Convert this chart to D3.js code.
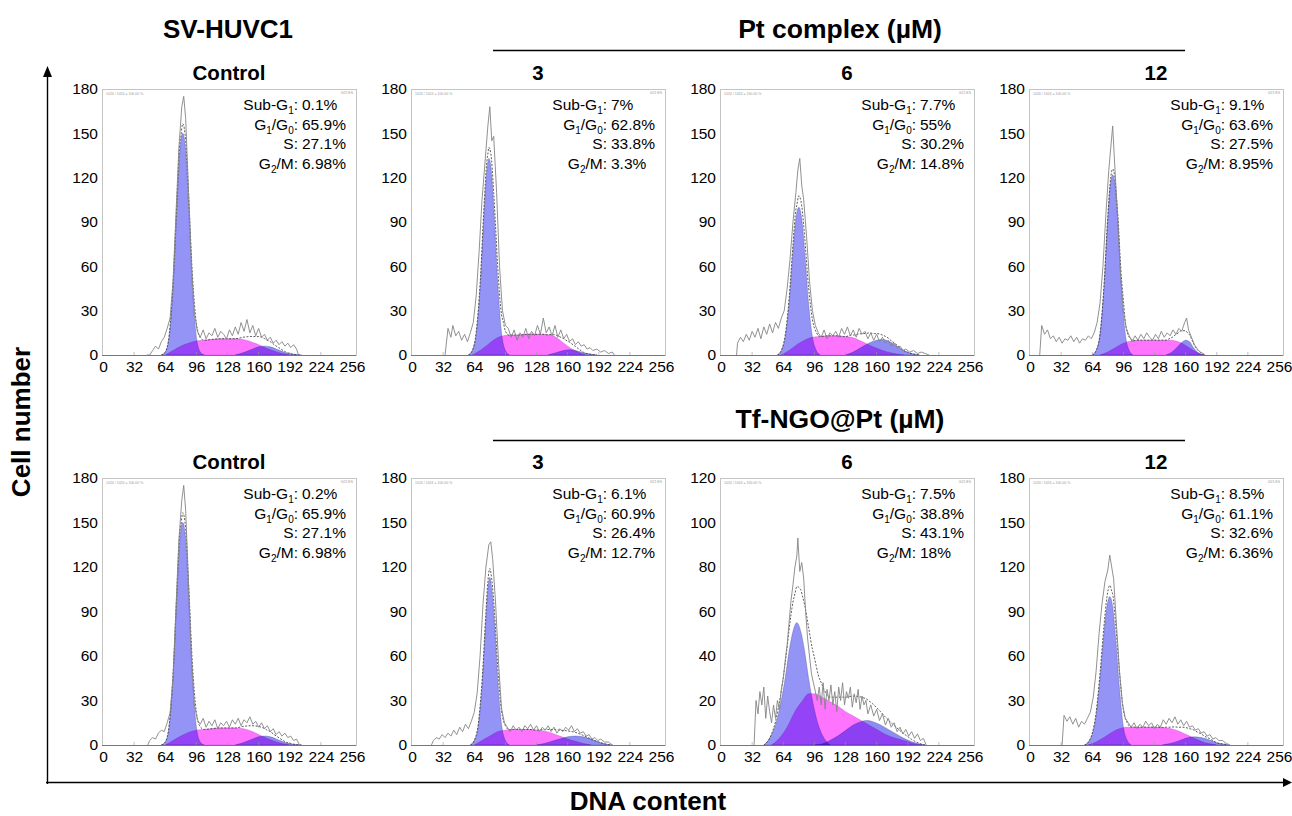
<!DOCTYPE html>
<html><head><meta charset="utf-8">
<script src="https://cdn.jsdelivr.net/npm/d3@7"></script>
<style>
body{margin:0;background:#fff;}
text{font-family:"Liberation Sans",Arial,Helvetica,sans-serif;fill:#000;}
</style></head><body>
<svg id="c" width="1292" height="816"></svg>
<script>
// ---------------- DATA ----------------
const panelTitles = ["Control","3","6","12","Control","3","6","12"];
const groupTitles = ["Pt complex (µM)","Tf-NGO@Pt (µM)"];
const cellLine = "SV-HUVC1";
const xTickValues = [0,32,64,96,128,160,192,224,256];
const yTicks180 = [0,30,60,90,120,150,180];
const yTicks120 = [0,20,40,60,80,100,120];
const yMaxes = [180,180,180,180,180,180,120,180];
const subG1 = ["0.1%","7%","7.7%","9.1%","0.2%","6.1%","7.5%","8.5%"];
const g1g0  = ["65.9%","62.8%","55%","63.6%","65.9%","60.9%","38.8%","61.1%"];
const sPh   = ["27.1%","33.8%","30.2%","27.5%","27.1%","26.4%","43.1%","32.6%"];
const g2m   = ["6.98%","3.3%","14.8%","8.95%","6.98%","12.7%","18%","6.36%"];

// histograms [channel, count]
const histPt0 = [[45,0],[48,0],[51,3],[54,6],[57,4],[60,9],[63,12],[66,18],[69,25],[72,50],[75,95],[78,140],[81,168],[83,175],[85,160],[88,110],[91,60],[94,28],[97,16],[100,12],[103,17],[106,11],[109,15],[112,13],[115,18],[118,12],[121,16],[124,14],[127,11],[130,17],[133,13],[136,19],[139,14],[142,22],[145,16],[148,24],[151,15],[154,20],[157,13],[160,18],[163,12],[166,14],[169,10],[172,12],[175,8],[178,10],[181,7],[184,9],[187,6],[190,8],[193,5],[196,7],[199,4],[201,0]];
const histPt3 = [[34,0],[37,18],[40,12],[42,20],[45,13],[48,16],[51,10],[54,14],[57,9],[60,15],[63,22],[66,40],[69,70],[72,105],[75,130],[78,155],[80,168],[82,145],[84,148],[87,110],[90,60],[93,30],[96,20],[99,18],[102,12],[105,17],[108,10],[111,15],[114,12],[117,18],[120,11],[123,16],[126,13],[129,20],[132,14],[135,25],[138,15],[141,19],[144,13],[147,20],[150,12],[153,17],[156,11],[159,14],[162,9],[165,11],[168,7],[171,9],[174,6],[177,7],[180,4],[183,5],[186,3],[190,4],[194,2],[198,3],[202,1],[206,2],[208,0]];
const histPt6 = [[16,0],[17,8],[20,12],[23,9],[26,14],[29,10],[32,16],[35,12],[38,18],[41,11],[44,19],[47,14],[50,21],[53,15],[56,22],[59,18],[62,25],[65,30],[68,45],[71,65],[74,90],[77,110],[79,125],[81,133],[83,115],[85,105],[88,80],[91,50],[94,30],[97,20],[100,15],[103,12],[106,17],[109,11],[112,15],[115,13],[118,16],[121,12],[124,18],[127,14],[130,19],[133,13],[136,17],[139,12],[142,18],[145,14],[148,16],[151,11],[154,15],[157,10],[160,14],[163,9],[166,12],[169,8],[172,10],[175,6],[178,8],[181,5],[184,6],[187,3],[190,4],[194,2],[198,3],[202,1],[206,2],[210,1],[214,0]];
const histPt12 = [[10,0],[12,20],[15,14],[18,17],[21,11],[24,13],[27,9],[30,12],[33,8],[36,11],[39,10],[42,13],[45,9],[48,12],[51,8],[54,11],[57,10],[60,13],[63,11],[66,15],[69,22],[72,35],[75,60],[78,95],[81,125],[83,140],[85,155],[87,130],[90,95],[93,55],[96,30],[99,18],[102,13],[105,9],[108,13],[111,10],[114,14],[117,11],[120,15],[123,12],[126,10],[129,14],[132,11],[135,16],[138,12],[141,15],[144,13],[147,17],[150,14],[153,18],[156,16],[159,22],[161,25],[163,17],[166,12],[169,7],[172,4],[175,2],[178,1],[180,0]];
const histTf0 = [[46,0],[48,3],[51,5],[54,4],[57,8],[60,10],[63,9],[66,15],[69,22],[72,45],[75,92],[78,138],[81,165],[83,175],[85,158],[88,108],[91,58],[94,27],[97,17],[100,14],[103,18],[106,12],[109,16],[112,13],[115,17],[118,11],[121,15],[124,13],[127,16],[130,12],[133,17],[136,14],[139,18],[142,13],[145,17],[148,15],[151,19],[154,14],[157,16],[160,12],[163,15],[166,11],[169,13],[172,9],[175,11],[178,7],[181,9],[184,6],[187,8],[190,5],[193,6],[196,3],[199,4],[202,0]];
const histTf3 = [[20,0],[22,3],[25,5],[28,4],[31,7],[34,5],[37,8],[40,6],[43,10],[46,7],[49,12],[52,9],[55,14],[58,11],[61,16],[64,22],[67,35],[70,60],[73,95],[76,120],[79,135],[81,137],[83,125],[86,95],[89,55],[92,25],[95,15],[98,12],[101,9],[104,13],[107,10],[110,12],[113,9],[116,13],[119,11],[122,14],[125,10],[128,13],[131,9],[134,12],[137,10],[140,13],[143,9],[146,12],[149,8],[152,11],[155,9],[158,12],[161,10],[164,13],[167,9],[170,11],[173,8],[176,9],[179,6],[182,7],[185,4],[188,5],[191,3],[194,4],[198,2],[202,2],[206,0]];
const histTf6 = [[34,0],[36,20],[38,14],[40,24],[42,18],[44,26],[46,12],[48,22],[50,15],[52,10],[54,18],[56,12],[58,20],[60,16],[62,25],[64,30],[66,38],[68,45],[70,55],[72,65],[74,72],[76,80],[78,85],[79,93],[81,78],[83,82],[85,75],[87,60],[89,48],[91,40],[93,32],[95,28],[97,24],[99,20],[101,26],[103,18],[105,28],[107,16],[109,25],[111,20],[113,27],[115,18],[117,24],[119,15],[121,26],[123,20],[125,28],[127,18],[129,24],[131,21],[133,26],[135,17],[137,23],[139,19],[141,25],[143,16],[145,22],[147,18],[149,20],[151,14],[154,18],[157,13],[160,16],[163,11],[166,14],[169,9],[172,12],[175,8],[178,10],[181,6],[184,8],[187,5],[190,7],[193,4],[196,6],[199,3],[202,5],[205,2],[208,3],[211,0]];
const histTf12 = [[33,0],[35,20],[38,16],[41,19],[44,14],[47,18],[50,12],[53,16],[56,14],[59,18],[62,22],[65,32],[68,50],[71,75],[74,95],[77,110],[80,118],[82,128],[84,120],[86,112],[89,80],[92,50],[95,28],[98,18],[101,15],[104,12],[107,15],[110,11],[113,14],[116,12],[119,16],[122,13],[125,15],[128,11],[131,14],[134,12],[137,17],[140,14],[143,18],[146,15],[149,19],[152,14],[155,17],[158,13],[161,16],[164,12],[167,13],[170,10],[173,11],[176,8],[179,9],[182,6],[185,7],[188,4],[191,5],[194,3],[198,3],[202,1],[206,0]];

// fitted components [channel, count]
const g1Pt0 = [[60,0],[64,2],[68,12],[72,45],[76,100],[79,138],[82,150],[85,138],[88,100],[92,45],[96,12],[100,2],[104,0]];
const sPt0  = [[64,0],[72,3],[80,6],[88,8],[96,9.5],[104,10],[112,10.5],[120,11],[128,11],[136,11],[144,10.5],[152,9],[160,7],[168,4.5],[176,2.5],[184,1],[192,0]];
const g2Pt0 = [[136,0],[144,1.5],[152,3.5],[160,5.5],[166,6],[172,5.5],[180,3.5],[188,1.5],[196,0.5],[204,0]];
const g1Pt3 = [[58,0],[62,3],[66,14],[70,45],[74,95],[77,125],[79,133],[81,128],[84,100],[88,50],[92,15],[96,3],[100,0]];
const sPt3  = [[62,0],[70,3],[78,7],[86,11],[94,13],[102,13.5],[110,13.5],[118,14],[126,14],[134,14],[142,13.5],[148,12],[154,9],[160,6],[166,3.5],[172,1.5],[178,0]];
const g2Pt3 = [[140,0],[148,1.5],[156,3],[162,3.5],[168,3],[176,1.5],[184,0.5],[190,0]];
const g1Pt6 = [[58,0],[62,3],[66,12],[70,35],[74,70],[77,92],[80,100],[83,92],[86,70],[90,35],[94,12],[98,3],[102,0]];
const sPt6  = [[62,0],[70,3],[78,7],[86,10],[94,12],[102,12.5],[110,13],[118,13],[126,12.5],[134,12],[142,10],[150,7.5],[158,5],[166,3],[174,1.5],[182,0.5],[188,0]];
const g2Pt6 = [[128,0],[136,2],[144,5],[152,8],[160,10],[166,10.5],[172,9.5],[180,6.5],[188,3],[196,1],[204,0]];
const g1Pt12 = [[64,0],[68,3],[72,14],[76,45],[80,92],[83,117],[85,122],[87,117],[90,92],[94,45],[98,14],[102,3],[106,0]];
const sPt12  = [[72,0],[80,2],[88,5],[96,8],[104,9.5],[112,10],[120,10],[128,10],[136,10],[144,10],[150,9.5],[156,8],[162,5.5],[168,3],[174,1],[180,0]];
const g2Pt12 = [[140,0],[146,2],[151,5],[156,8.5],[160,10],[164,9],[168,5],[172,2],[178,0]];
const g1Tf0 = [[60,0],[64,2],[68,12],[72,45],[76,100],[79,138],[82,150],[85,138],[88,100],[92,45],[96,12],[100,2],[104,0]];
const sTf0  = [[64,0],[72,3],[80,6],[88,8.5],[96,10],[104,10.5],[112,11],[120,11.5],[128,11.5],[136,11.5],[144,11],[152,9.5],[160,7],[168,4.5],[176,2.5],[184,1],[192,0]];
const g2Tf0 = [[136,0],[144,1.5],[152,3.5],[160,5.5],[166,6],[172,5.5],[180,3.5],[188,1.5],[196,0.5],[204,0]];
const g1Tf3 = [[60,0],[64,3],[68,12],[72,40],[76,85],[78,105],[80,113],[82,105],[85,80],[88,45],[92,14],[96,3],[100,0]];
const sTf3  = [[64,0],[72,3],[80,6],[88,9],[96,10],[104,10.5],[112,10.5],[120,10.5],[128,10],[136,9.5],[144,8],[152,6],[160,4],[168,2.5],[176,1],[184,0]];
const g2Tf3 = [[128,0],[136,1],[144,2.5],[152,4],[160,5.5],[168,6],[176,5.5],[184,4],[192,2],[200,0.5],[206,0]];
const g1Tf6 = [[44,0],[50,3],[56,9],[62,20],[66,30],[70,42],[74,51],[78,55],[82,51],[86,42],[90,30],[94,20],[100,9],[106,3],[112,0]];
const sTf6  = [[52,0],[60,3],[68,8],[76,15],[84,20],[90,23],[96,23],[104,21.5],[112,19.5],[120,17.5],[128,15],[136,13],[144,11],[152,9],[160,7],[168,5],[176,3.5],[184,2.5],[192,1.5],[200,0.5],[207,0]];
const g2Tf6 = [[96,0],[104,0.5],[112,2],[120,4],[128,6.5],[136,9],[144,10.5],[150,11],[156,10.5],[164,9],[172,7],[180,5],[188,3],[196,1.5],[204,0.5],[210,0]];
const g1Tf12 = [[56,0],[60,2],[64,7],[68,20],[72,45],[76,75],[79,93],[82,100],[85,93],[88,72],[92,38],[96,12],[100,3],[104,0]];
const sTf12  = [[60,0],[68,2],[76,5],[84,8.5],[92,11],[100,12],[108,12],[116,12],[124,12],[132,12],[140,11.5],[148,10.5],[156,8.5],[164,6],[172,3.5],[180,1.5],[188,0.5],[192,0]];
const g2Tf12 = [[136,0],[144,1],[152,2.5],[160,4.5],[168,5.5],[176,5],[184,3.5],[192,1.5],[200,0.5],[204,0]];

const hists = [histPt0,histPt3,histPt6,histPt12,histTf0,histTf3,histTf6,histTf12];
const g1s = [g1Pt0,g1Pt3,g1Pt6,g1Pt12,g1Tf0,g1Tf3,g1Tf6,g1Tf12];
const ss  = [sPt0,sPt3,sPt6,sPt12,sTf0,sTf3,sTf6,sTf12];
const g2s = [g2Pt0,g2Pt3,g2Pt6,g2Pt12,g2Tf0,g2Tf3,g2Tf6,g2Tf12];

// ---------------- LAYOUT ----------------
const svg = d3.select("#c");
const FONT = '"Liberation Sans",Arial,Helvetica,sans-serif';
const colLeft = c => 102 + c*309;
const boxW = 254;
const rowTop = [89, 478], rowBase = [355, 745];

function valAt(pts, c){
  if (c <= pts[0][0] || c >= pts[pts.length-1][0]) return 0;
  const i = d3.bisector(d=>d[0]).right(pts, c);
  const a = pts[i-1], b = pts[i];
  return a[1] + (b[1]-a[1])*(c-a[0])/(b[0]-a[0]);
}

for (let p=0;p<8;p++){
  const r = Math.floor(p/4), c = p%4;
  const L = colLeft(c), T = rowTop[r], B = rowBase[r];
  const g = svg.append("g");
  const x = d3.scaleLinear().domain([0,256]).range([L+1, L+250]);
  const y = d3.scaleLinear().domain([0,yMaxes[p]]).range([B, T]);

  // frame
  g.append("rect").attr("x",L+0.5).attr("y",T+0.5).attr("width",boxW).attr("height",B-T)
    .attr("fill","#fff").attr("stroke","#c4c4c4").attr("stroke-width",1);
  g.append("text").attr("x",L+4).attr("y",T+6).attr("font-size",3.5).style("fill","#999").text("1024 / 1024 = 100.00 %");
  g.append("text").attr("x",L+boxW-3).attr("y",T+5).attr("text-anchor","end").attr("font-size",3.5).style("fill","#999").text("G21 ES");

  const area = d3.area().x(d=>x(d[0])).y0(B).y1(d=>y(d[1])).curve(d3.curveMonotoneX);
  const line = d3.line().x(d=>x(d[0])).y(d=>y(d[1])).curve(d3.curveMonotoneX);
  const comps = g.append("g").style("isolation","isolate");
  comps.append("path").attr("d",area(ss[p])).attr("fill","#ff74ff").attr("stroke","#b050c0").attr("stroke-width",0.4);
  comps.append("path").attr("d",area(g1s[p])).attr("fill","#9494f6").style("mix-blend-mode","multiply").attr("stroke","#5050a0").attr("stroke-width",0.4);
  comps.append("path").attr("d",area(g2s[p])).attr("fill","#8c8cf2").style("mix-blend-mode","multiply").attr("stroke","#5050a0").attr("stroke-width",0.4);

  // fit sum (derived from the components)
  const chans = Array.from(new Set([...g1s[p],...ss[p],...g2s[p]].map(d=>d[0]))).sort((a,b)=>a-b);
  const fit = chans.map(ch=>[ch, valAt(g1s[p],ch)+valAt(ss[p],ch)+valAt(g2s[p],ch)]);
  g.append("path").attr("d",line(fit)).attr("fill","none").attr("stroke","#333").attr("stroke-width",0.8).attr("stroke-dasharray","2,1.5");

  // histogram
  g.append("path").attr("d",d3.line().x(d=>x(d[0])).y(d=>y(d[1]))(hists[p]))
    .attr("fill","none").attr("stroke","#858585").attr("stroke-width",0.9);

  // baseline
  g.append("line").attr("x1",L).attr("x2",L+boxW).attr("y1",B+0.5).attr("y2",B+0.5).attr("stroke","#777").attr("stroke-width",1);
  xTickValues.slice(1,-1).forEach(v=>{
    g.append("line").attr("x1",x(v)).attr("x2",x(v)).attr("y1",B).attr("y2",B-3).attr("stroke","#999").attr("stroke-width",0.6);
  });

  // axes labels
  const ax = g.append("g").attr("transform",`translate(0,${B})`)
    .call(d3.axisBottom(x).tickValues(xTickValues).tickSize(0).tickPadding(6).tickFormat(d3.format("d")));
  ax.select(".domain").remove();
  ax.selectAll("text").attr("font-size",15.5).attr("font-family",FONT).style("fill","#000");
  const ay = g.append("g").attr("transform",`translate(${L},0)`)
    .call(d3.axisLeft(y).tickValues(yMaxes[p]===120?yTicks120:yTicks180).tickSize(0).tickPadding(4));
  ay.select(".domain").remove();
  ay.selectAll("text").attr("font-size",15.5).attr("font-family",FONT).style("fill","#000");

  // title
  g.append("text").attr("x",L+127).attr("y",T-9).attr("text-anchor","middle")
    .attr("font-size",20.5).attr("font-weight","bold").text(panelTitles[p]);

  // annotations
  const cx = L+196;
  const lines = [
    [["Sub-G",0],["1",1],[":",0]], subG1[p],
    [["G",0],["1",1],["/G",0],["0",1],[":",0]], g1g0[p],
    [["S:",0]], sPh[p],
    [["G",0],["2",1],["/M:",0]], g2m[p]
  ];
  for (let k=0;k<4;k++){
    const yy = T + 21 + k*19.7;
    const t = g.append("text").attr("x",cx).attr("y",yy).attr("text-anchor","end").attr("font-size",15.5);
    let sub=false;
    lines[2*k].forEach(([s,isSub])=>{
      const ts = t.append("tspan").text(s);
      if (isSub && !sub){ ts.attr("dy",4).attr("font-size",10); sub=true; }
      else if (isSub && sub){ ts.attr("font-size",10); }
      else if (!isSub && sub){ ts.attr("dy",-4); sub=false; }
    });
    g.append("text").attr("x",cx+4).attr("y",yy).attr("font-size",15.5).text(lines[2*k+1]);
  }
}

// group titles
svg.append("text").attr("x",228).attr("y",38).attr("text-anchor","middle").attr("font-size",26).attr("font-weight","bold").text(cellLine);
[38,428].forEach((yy,i)=>{
  svg.append("text").attr("x",840).attr("y",yy).attr("text-anchor","middle").attr("font-size",26.5).attr("font-weight","bold").text(groupTitles[i]);
  svg.append("line").attr("x1",493).attr("x2",1185).attr("y1",yy+12.5).attr("y2",yy+12.5).attr("stroke","#000").attr("stroke-width",1.3);
});

// big axes arrows
svg.append("line").attr("x1",47.5).attr("x2",47.5).attr("y1",784).attr("y2",74).attr("stroke","#000").attr("stroke-width",1.4);
svg.append("path").attr("d","M47.5,66 L43,77 L52,77 Z").attr("fill","#000");
svg.append("line").attr("x1",46).attr("x2",1284).attr("y1",782.5).attr("y2",782.5).attr("stroke","#000").attr("stroke-width",1.4);
svg.append("path").attr("d","M1292,782.5 L1283,778 L1283,787 Z").attr("fill","#000");

svg.append("text").attr("transform","translate(30,422) rotate(-90)").attr("text-anchor","middle").attr("font-size",26).attr("font-weight","bold").text("Cell number");
svg.append("text").attr("x",648).attr("y",810).attr("text-anchor","middle").attr("font-size",26).attr("font-weight","bold").text("DNA content");
</script>
</body></html>
